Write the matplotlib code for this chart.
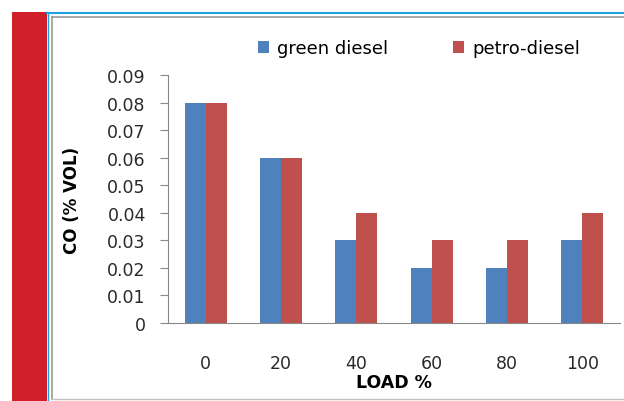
import numpy as np
import matplotlib.pyplot as plt
from matplotlib.patches import Rectangle
from matplotlib.lines import Line2D

plt.rcParams['font.family'] = ['DejaVu Sans']

loads = ["0", "20", "40", "60", "80", "100"]
green_diesel = [0.08, 0.06, 0.03, 0.02, 0.02, 0.03]
petro_diesel = [0.08, 0.06, 0.04, 0.03, 0.03, 0.04]

W, H = 624, 402
fig = plt.figure(figsize=(W / 100, H / 100), dpi=100)

# Rahmen und roter Streifen links
fig.add_artist(Rectangle((12 / W, 0), 35 / W, 389 / H, color="#d0212a", lw=0))
fig.add_artist(Line2D([47 / W, 1], [388 / H, 388 / H], color="#1aa3e0", lw=1.5))
fig.add_artist(Line2D([48 / W, 48 / W], [0, 388 / H], color="#1aa3e0", lw=1))
fig.add_artist(Line2D([52 / W, 1], [384 / H, 384 / H], color="#9a9a9a", lw=1.2))
fig.add_artist(Line2D([52 / W, 52 / W], [2 / H, 384 / H], color="#9a9a9a", lw=1.2))
fig.add_artist(Line2D([52 / W, 1], [2 / H, 2 / H], color="#c0c0c0", lw=1))

ax = fig.add_axes([168 / W, 78 / H, 452 / W, 248 / H])
x = np.arange(len(loads))
w = 0.28
ax.bar(x - w / 2, green_diesel, w, color="#4f81bd", label="green diesel")
ax.bar(x + w / 2, petro_diesel, w, color="#c0504d", label="petro-diesel")

ax.set_xlim(-0.5, len(loads) - 0.5)
ax.set_ylim(0, 0.09)
ax.set_yticks(np.arange(0, 0.091, 0.01))
ax.set_yticklabels(["0"] + ["%.2f" % v for v in np.arange(0.01, 0.091, 0.01)])
ax.set_xticks(x)
ax.set_xticklabels(loads)
ax.tick_params(axis="y", length=6, color="#888888", labelsize=12.5, pad=10,
               labelcolor="#2a2a2a")
ax.tick_params(axis="x", length=0, labelsize=12.5, pad=22, labelcolor="#2a2a2a")
for s in ["top", "right"]:
    ax.spines[s].set_visible(False)
ax.spines["left"].set_color("#888888")
ax.spines["bottom"].set_color("#888888")

ax.set_xlabel("LOAD %", fontsize=12.5, fontweight="bold", labelpad=1)
ax.set_ylabel("CO (% VOL)", fontsize=12, fontweight="bold", labelpad=19)

ax.legend(loc="upper center", bbox_to_anchor=(0.555, 1.21), ncol=2, frameon=False,
          fontsize=13, handlelength=0.6, handleheight=0.6, columnspacing=3.6,
          handletextpad=0.45)

fig.savefig("out.png", dpi=100)
